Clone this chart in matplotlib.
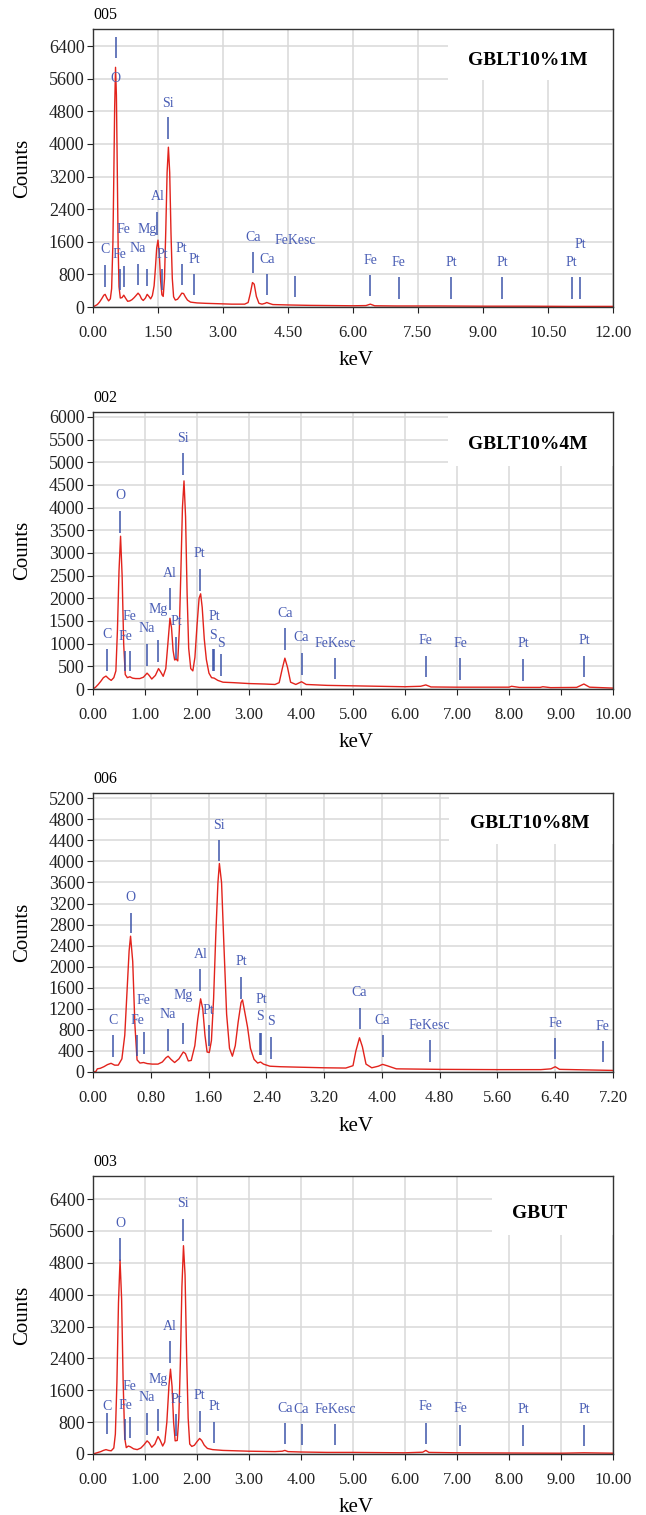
import matplotlib
matplotlib.use('Agg')
import matplotlib.pyplot as plt
from matplotlib.patches import Rectangle
import numpy as np

plt.rcParams['font.family'] = ['Liberation Serif', 'DejaVu Serif']

# ---- panel 1 : 005 / GBLT10%1M ----
p1_kev = [0.00, 0.05, 0.10, 0.15, 0.20, 0.25, 0.28, 0.32, 0.36, 0.40, 0.43, 0.46, 0.48, 0.50,
          0.52, 0.54, 0.56, 0.58, 0.60, 0.63, 0.67, 0.71, 0.75, 0.80, 0.85, 0.90, 0.95, 1.00,
          1.04, 1.08, 1.12, 1.16, 1.21, 1.25, 1.29, 1.33, 1.37, 1.41, 1.44, 1.47, 1.50, 1.53,
          1.56, 1.59, 1.62, 1.65, 1.68, 1.71, 1.74, 1.77, 1.80, 1.83, 1.86, 1.90, 1.95, 2.00,
          2.05, 2.09, 2.13, 2.18, 2.25, 2.40, 2.60, 2.90, 3.20, 3.50, 3.58, 3.63, 3.68, 3.72,
          3.77, 3.83, 3.90, 3.97, 4.01, 4.06, 4.15, 4.50, 5.00, 5.50, 6.00, 6.30, 6.40, 6.50,
          7.00, 8.00, 9.00, 10.00, 11.00, 12.00]
p1_counts = [0, 30, 60, 120, 200, 290, 310, 220, 150, 200, 450, 1600, 3200, 4900,
             5880, 5200, 3400, 1500, 500, 220, 230, 290, 220, 140, 150, 180, 230, 290,
             340, 290, 200, 160, 220, 310, 260, 200, 280, 520, 950, 1450, 1640, 1300,
             650, 300, 260, 700, 1900, 3300, 3920, 3300, 1800, 700, 250, 170, 190, 260,
             340, 330, 250, 170, 120, 100, 90, 80, 70, 70, 110, 330, 600, 560,
             260, 90, 70, 90, 110, 90, 60, 50, 40, 35, 30, 35, 70, 30,
             25, 25, 20, 20, 15, 15]
p1_mark_name = ['C', 'O', 'Fe', 'Fe', 'Na', 'Mg', 'Al', 'Pt', 'Si', 'Pt', 'Pt', 'Ca', 'Ca',
                'FeKesc', 'Fe', 'Fe', 'Pt', 'Pt', 'Pt', 'Pt']
p1_mark_kev = [0.277, 0.525, 0.615, 0.705, 1.041, 1.253, 1.486, 1.60, 1.739, 2.05, 2.33, 3.69,
               4.01, 4.66, 6.40, 7.06, 8.27, 9.44, 11.05, 11.24]
p1_mark_lo = [490, 6105, 420, 490, 540, 515, 1765, 420, 4120, 540, 295, 835, 295, 245, 270,
              195, 195, 195, 195, 195]
p1_mark_hi = [1030, 6620, 930, 1000, 1050, 930, 2330, 930, 4660, 1050, 810, 1350, 810, 760,
              785, 735, 735, 735, 735, 735]
p1_mark_text = [1400, 5615, 1300, 1890, 1445, 1890, 2700, 1300, 5000, 1445, 1175, 1715, 1175,
                1640, 1150, 1080, 1100, 1100, 1080, 1545]

# ---- panel 2 : 002 / GBLT10%4M ----
p2_kev = [0.00, 0.05, 0.10, 0.15, 0.20, 0.25, 0.30, 0.35, 0.40, 0.44, 0.47, 0.50, 0.53, 0.56,
          0.59, 0.62, 0.66, 0.71, 0.76, 0.82, 0.90, 0.97, 1.04, 1.08, 1.13, 1.20, 1.26, 1.30,
          1.35, 1.40, 1.44, 1.48, 1.51, 1.54, 1.57, 1.60, 1.63, 1.66, 1.69, 1.72, 1.75, 1.78,
          1.81, 1.84, 1.88, 1.92, 1.96, 2.00, 2.04, 2.07, 2.10, 2.14, 2.18, 2.23, 2.28, 2.33,
          2.40, 2.50, 2.70, 3.00, 3.30, 3.50, 3.58, 3.64, 3.69, 3.74, 3.80, 3.90, 4.01, 4.10,
          4.50, 5.00, 5.50, 6.00, 6.30, 6.40, 6.50, 7.00, 8.00, 8.05, 8.20, 8.60, 8.65, 8.80,
          9.30, 9.44, 9.55, 10.00]
p2_counts = [0, 40, 100, 170, 250, 285, 230, 190, 250, 400, 1300, 2600, 3370, 2500,
             1000, 320, 250, 270, 240, 230, 230, 260, 350, 300, 220, 300, 450, 380,
             280, 450, 1000, 1560, 1350, 850, 640, 660, 620, 1300, 2600, 4000, 4590, 3800,
             2100, 900, 450, 400, 700, 1400, 2000, 2100, 1800, 1100, 650, 350, 250, 240,
             190, 150, 140, 120, 110, 100, 140, 450, 680, 480, 150, 100, 160, 100,
             80, 70, 60, 50, 60, 90, 45, 40, 40, 60, 35, 35, 50, 30,
             35, 110, 40, 20]
p2_mark_name = ['C', 'O', 'Fe', 'Fe', 'Na', 'Mg', 'Al', 'Pt', 'Si', 'Pt', 'S', 'Pt', 'S', 'Ca',
                'Ca', 'FeKesc', 'Fe', 'Fe', 'Pt', 'Pt']
p2_mark_kev = [0.277, 0.525, 0.615, 0.705, 1.041, 1.253, 1.486, 1.60, 1.739, 2.05, 2.307, 2.33,
               2.464, 3.69, 4.01, 4.66, 6.40, 7.06, 8.27, 9.44]
p2_mark_lo = [404, 3448, 404, 404, 507, 603, 1743, 655, 4720, 2168, 404, 404, 287, 860, 309,
              214, 258, 199, 184, 272]
p2_mark_hi = [876, 3934, 832, 832, 993, 1081, 2221, 1154, 5200, 2640, 876, 876, 772, 1338, 801,
              677, 728, 677, 655, 728]
p2_mark_text = [1213, 4258, 1169, 1610, 1338, 1743, 2537, 1485, 5530, 2978, 1191, 1610, 1000,
                1655, 1140, 1008, 1066, 993, 993, 1066]

# ---- panel 3 : 006 / GBLT10%8M ----
p3_kev = [0.00, 0.04, 0.06, 0.10, 0.15, 0.20, 0.25, 0.30, 0.35, 0.40, 0.44, 0.47, 0.50, 0.52,
          0.55, 0.58, 0.61, 0.65, 0.70, 0.75, 0.82, 0.90, 0.96, 1.01, 1.04, 1.08, 1.13, 1.19,
          1.25, 1.28, 1.32, 1.36, 1.41, 1.45, 1.49, 1.52, 1.55, 1.58, 1.61, 1.64, 1.67, 1.70,
          1.73, 1.75, 1.78, 1.81, 1.85, 1.89, 1.93, 1.97, 2.01, 2.05, 2.07, 2.10, 2.14, 2.18,
          2.23, 2.28, 2.32, 2.36, 2.45, 2.60, 2.90, 3.20, 3.50, 3.60, 3.64, 3.69, 3.73, 3.78,
          3.86, 3.95, 4.01, 4.07, 4.20, 4.80, 5.60, 6.20, 6.34, 6.40, 6.46, 7.20]
p3_counts = [0, 10, 60, 70, 100, 140, 165, 130, 130, 250, 700, 1500, 2300, 2580,
             2100, 900, 230, 170, 180, 160, 150, 150, 190, 270, 300, 240, 180, 250,
             380, 350, 210, 220, 500, 1000, 1390, 1200, 700, 380, 370, 600, 1400, 2600,
             3600, 3960, 3600, 2500, 1100, 450, 300, 500, 950, 1320, 1370, 1150, 850, 450,
             240, 170, 190, 150, 110, 100, 90, 80, 75, 120, 400, 650, 480, 150,
             80, 110, 145, 120, 60, 50, 45, 45, 60, 100, 50, 30]
p3_mark_name = ['C', 'O', 'Fe', 'Fe', 'Na', 'Mg', 'Al', 'Pt', 'Si', 'Pt', 'S', 'Pt', 'S', 'Ca',
                'Ca', 'FeKesc', 'Fe', 'Fe']
p3_mark_kev = [0.277, 0.525, 0.615, 0.705, 1.041, 1.253, 1.486, 1.60, 1.739, 2.05, 2.307, 2.33,
               2.464, 3.69, 4.01, 4.66, 6.40, 7.06]
p3_mark_lo = [291, 2632, 310, 348, 405, 531, 1543, 493, 4011, 1380, 323, 323, 241, 810, 291,
              196, 241, 184]
p3_mark_hi = [702, 3023, 702, 759, 810, 936, 1949, 892, 4403, 1797, 734, 734, 658, 1209, 702,
              607, 639, 594]
p3_mark_text = [987, 3316, 987, 1353, 1101, 1461, 2240, 1177, 4688, 2094, 1050, 1380, 955,
                1505, 974, 892, 924, 873]

# ---- panel 4 : 003 / GBUT ----
p4_kev = [0.00, 0.05, 0.10, 0.15, 0.20, 0.25, 0.30, 0.35, 0.40, 0.43, 0.46, 0.49, 0.52, 0.55,
          0.58, 0.61, 0.64, 0.68, 0.72, 0.78, 0.85, 0.92, 0.98, 1.04, 1.08, 1.13, 1.19, 1.25,
          1.29, 1.34, 1.38, 1.42, 1.46, 1.49, 1.52, 1.55, 1.58, 1.62, 1.65, 1.68, 1.71, 1.74,
          1.77, 1.80, 1.83, 1.86, 1.90, 1.95, 2.00, 2.05, 2.09, 2.14, 2.20, 2.30, 2.50, 3.00,
          3.50, 3.64, 3.69, 3.75, 4.00, 4.50, 5.00, 6.00, 6.34, 6.40, 6.46, 7.00, 8.00, 9.00,
          9.44, 10.00]
p4_counts = [0, 20, 40, 60, 90, 110, 90, 80, 150, 500, 1800, 3800, 4870, 3900,
             1800, 400, 160, 200, 180, 130, 110, 150, 230, 330, 280, 170, 250, 440,
             350, 200, 300, 800, 1700, 2130, 1700, 800, 330, 340, 900, 2300, 4200, 5230,
             4500, 2500, 900, 250, 190, 220, 310, 390, 340, 220, 140, 110, 90, 70,
             60, 70, 90, 60, 50, 40, 40, 30, 45, 90, 40, 30, 25, 20,
             30, 20]
p4_mark_name = ['C', 'O', 'Fe', 'Fe', 'Na', 'Mg', 'Al', 'Pt', 'Si', 'Pt', 'Pt', 'Ca', 'Ca',
                'FeKesc', 'Fe', 'Fe', 'Pt', 'Pt']
p4_mark_kev = [0.277, 0.525, 0.615, 0.705, 1.041, 1.253, 1.486, 1.60, 1.739, 2.05, 2.33, 3.69,
               4.01, 4.66, 6.40, 7.06, 8.27, 9.44]
p4_mark_lo = [502, 4852, 351, 393, 477, 586, 2292, 452, 5354, 560, 268, 251, 226, 226, 251,
              201, 201, 201]
p4_mark_hi = [1037, 5414, 871, 937, 1021, 1121, 2844, 1004, 5891, 1087, 811, 786, 753, 753, 786,
              728, 728, 728]
p4_mark_text = [1187, 5790, 1230, 1707, 1423, 1875, 3213, 1373, 6292, 1481, 1187, 1147, 1122,
                1122, 1187, 1147, 1122, 1122]

RED = '#e2231c'
BLUE_LINE = '#3d55aa'
BLUE_TEXT = '#4a5eb5'
W, H = 646, 1515


def draw_panel(ax, kev, counts, names, mk, lo, hi, ty, xmax, xstep, ymax, ytop, ystep,
               tag, title, title_xy, box):
    ax.set_axisbelow(True)
    ax.grid(True, color='#d8d8d8', lw=1.1)
    ax.add_patch(Rectangle((box[0], box[1]), 1 - box[0], 1 - box[1], transform=ax.transAxes,
                           facecolor='white', edgecolor='none', zorder=1))
    ax.plot(kev, counts, color=RED, lw=1.0, zorder=3)
    ax.vlines(mk, lo, hi, color=BLUE_LINE, lw=1.1, zorder=4)
    for n, x, y in zip(names, mk, ty):
        ax.text(x, y, n, color=BLUE_TEXT, fontsize=10, ha='center', va='center', zorder=5)
    ax.set_xlim(0, xmax)
    ax.set_ylim(0, ytop)
    ax.set_xticks(np.arange(0, xmax + 1e-6, xstep))
    ax.set_yticks(np.arange(0, ymax + 1, ystep))
    ax.set_xticklabels(['%.2f' % v for v in np.arange(0, xmax + 1e-6, xstep)])
    ax.tick_params(axis='x', direction='out', length=4, pad=9, labelsize=12, colors='#222222')
    ax.tick_params(axis='y', direction='out', length=4, pad=2, labelsize=13, colors='#222222')
    for s in ax.spines.values():
        s.set_color('#333333')
        s.set_linewidth(1.0)
        s.set_zorder(6)
    ax.set_ylabel('Counts', fontsize=15)
    ax.set_xlabel('keV', fontsize=15)
    ax.yaxis.set_label_coords(-0.118, 0.5)
    ax.xaxis.set_label_coords(0.505, -0.16)
    ax.text(0, 1.05, tag, transform=ax.transAxes, fontsize=11.5, ha='left', va='center')
    ax.text(title_xy[0], title_xy[1], title, transform=ax.transAxes, fontsize=14,
            fontweight='bold', ha='center', va='center', zorder=5)


fig = plt.figure(figsize=(W / 100, H / 100), dpi=100)

# axes boxes in pixels: (top, bottom)
boxes = [(29, 307), (412, 689), (793, 1072), (1176, 1454)]
axs = []
for top, bot in boxes:
    axs.append(fig.add_axes([93 / W, 1 - bot / H, 520 / W, (bot - top) / H]))

draw_panel(axs[0], p1_kev, p1_counts, p1_mark_name, p1_mark_kev, p1_mark_lo, p1_mark_hi,
           p1_mark_text, 12.0, 1.5, 6400, 6820, 800, '005', 'GBLT10%1M', (0.837, 0.888),
           (0.683, 0.817))
draw_panel(axs[1], p2_kev, p2_counts, p2_mark_name, p2_mark_kev, p2_mark_lo, p2_mark_hi,
           p2_mark_text, 10.0, 1.0, 6000, 6110, 500, '002', 'GBLT10%4M', (0.836, 0.881),
           (0.683, 0.805))
draw_panel(axs[2], p3_kev, p3_counts, p3_mark_name, p3_mark_kev, p3_mark_lo, p3_mark_hi,
           p3_mark_text, 7.2, 0.8, 5200, 5300, 400, '006', 'GBLT10%8M', (0.840, 0.891),
           (0.685, 0.817))
draw_panel(axs[3], p4_kev, p4_counts, p4_mark_name, p4_mark_kev, p4_mark_lo, p4_mark_hi,
           p4_mark_text, 10.0, 1.0, 6400, 6980, 800, '003', 'GBUT', (0.858, 0.866),
           (0.767, 0.788))

fig.savefig('out.png', dpi=100)
